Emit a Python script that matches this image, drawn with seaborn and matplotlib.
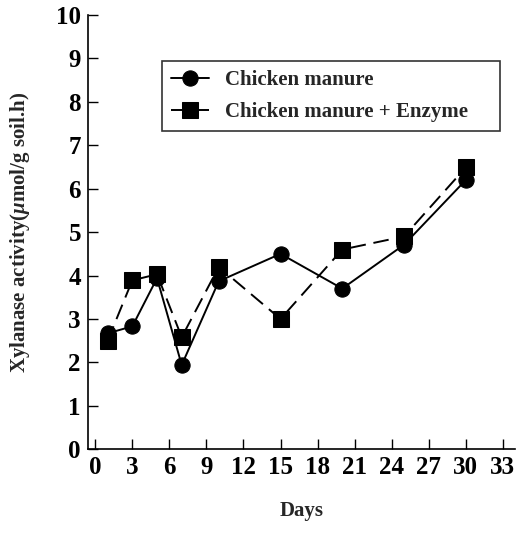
import matplotlib
matplotlib.use("Agg")
import matplotlib.pyplot as plt
import seaborn as sns
import pandas as pd

days = [1, 3, 5, 7, 10, 15, 20, 25, 30]
manure = [2.67, 2.83, 3.94, 1.94, 3.87, 4.5, 3.7, 4.71, 6.2]
manure_enzyme = [2.5, 3.89, 4.03, 2.58, 4.2, 3.0, 4.6, 4.9, 6.49]
series_names = ["Chicken manure", "Chicken manure + Enzyme"]
x_ticks = list(range(0, 34, 3))
y_ticks = list(range(0, 11))

df = pd.DataFrame({
    "day": days * 2,
    "value": manure + manure_enzyme,
    "series": [series_names[0]] * len(days) + [series_names[1]] * len(days),
})

sns.set_style("ticks")
plt.rcParams["font.family"] = ["Liberation Serif", "DejaVu Serif"]
plt.rcParams["font.weight"] = "bold"
plt.rcParams["axes.labelweight"] = "bold"
plt.rcParams["mathtext.fontset"] = "custom"
plt.rcParams["mathtext.rm"] = "Liberation Serif:bold"
plt.rcParams["mathtext.it"] = "Liberation Serif:italic:bold"

fig = plt.figure(figsize=(5.23, 5.38), dpi=100)
ax = fig.add_axes([0.168, 0.165, 0.817, 0.807])

sns.lineplot(
    data=df, x="day", y="value", style="series",
    markers={series_names[0]: "o", series_names[1]: "s"},
    dashes={series_names[0]: "", series_names[1]: (8, 4)},
    color="black", linewidth=1.4, markersize=11, markeredgecolor="black",
    ax=ax, legend=True,
)

ax.set_xlim(-0.6, 34)
ax.set_ylim(0, 10)
ax.set_xticks(x_ticks)
ax.set_yticks(y_ticks)
ax.tick_params(direction="in", length=7, width=1, labelsize=18, colors="black", pad=5)
for sp in ["top", "right"]:
    ax.spines[sp].set_visible(False)
for sp in ["left", "bottom"]:
    ax.spines[sp].set_linewidth(1.2)
    ax.spines[sp].set_color("black")

ax.set_xlabel("Days", fontsize=15, labelpad=16)
ax.set_ylabel(r"Xylanase activity($\mathit{\mu}$mol/g soil.h)", fontsize=15, labelpad=17)

handles, labels = ax.get_legend_handles_labels()
leg = ax.legend(handles, ["Chicken manure", "Chicken manure + Enzyme"],
                loc="upper left", bbox_to_anchor=(0.173, 0.742, 0.792, 0.152),
                mode="expand", borderaxespad=0,
                frameon=True, fancybox=False, edgecolor="black",
                fontsize=15, handlelength=1.8, borderpad=0.45, labelspacing=0.55,
                handletextpad=0.8)
leg.get_frame().set_linewidth(1.2)

fig.savefig("out.png", dpi=100)
